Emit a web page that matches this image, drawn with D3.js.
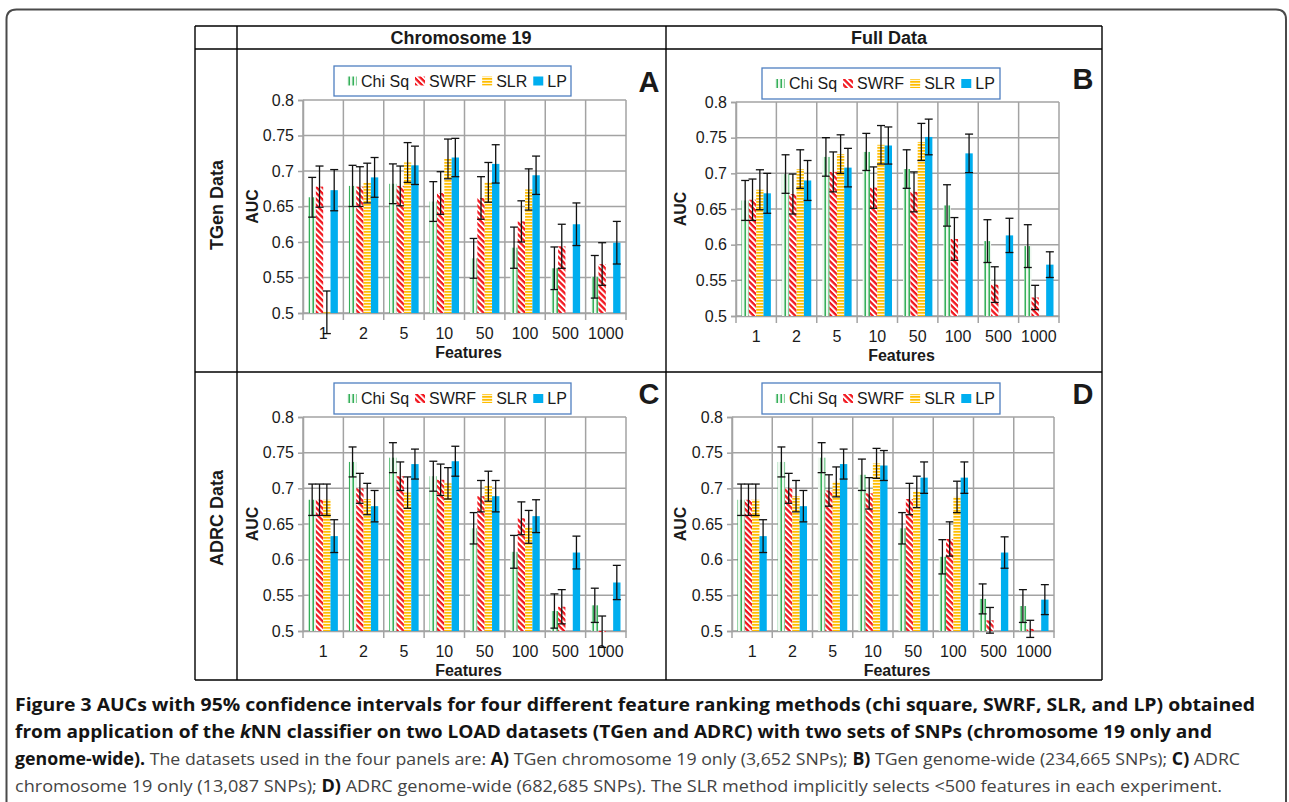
<!DOCTYPE html>
<html>
<head>
<meta charset="utf-8">
<title>AUCs with 95% confidence intervals</title>
<script src="https://cdnjs.cloudflare.com/ajax/libs/d3/7.8.5/d3.min.js"></script>
<style>
  body { margin: 0; background: #fff; }
  svg { display: block; }
  .chart text { font-family: "Liberation Sans", Arial, sans-serif; fill: #1a1a1a; }
  .caption text { font-family: "Open Sans", sans-serif; font-size: 17px; fill: #444; }
  .caption .b { font-weight: bold; fill: #141414; }
</style>
</head>
<body>
<script>

var features = ["1", "2", "5", "10", "50", "100", "500", "1000"];
var methods = ["Chi Sq", "SWRF", "SLR", "LP"];
var yTicks = [0.5, 0.55, 0.6, 0.65, 0.7, 0.75, 0.8];

// AUC values per method (Chi Sq, SWRF, SLR, LP), one entry per feature count
// and the half-width of the 95% CI in the matching array
var aucTGenChr19 = [
  [0.663, 0.679, 0.682, 0.657, 0.577, 0.592, 0.563, 0.551],
  [0.678, 0.678, 0.679, 0.669, 0.662, 0.629, 0.594, 0.569],
  [0.501, 0.683, 0.712, 0.717, 0.684, 0.674, null, null],
  [0.673, 0.691, 0.708, 0.719, 0.710, 0.694, 0.625, 0.599]
];
var ciTGenChr19 = [
  [0.028, 0.029, 0.028, 0.028, 0.028, 0.029, 0.030, 0.030],
  [0.029, 0.028, 0.028, 0.030, 0.030, 0.029, 0.031, 0.030],
  [0.030, 0.028, 0.028, 0.028, 0.028, 0.029, null, null],
  [0.029, 0.028, 0.027, 0.027, 0.027, 0.027, 0.030, 0.030]
];

var aucTGenFull = [
  [0.662, 0.699, 0.723, 0.730, 0.706, 0.655, 0.605, 0.598],
  [0.663, 0.671, 0.702, 0.680, 0.674, 0.608, 0.544, 0.526],
  [0.677, 0.706, 0.727, 0.740, 0.744, null, null, null],
  [0.672, 0.690, 0.708, 0.739, 0.751, 0.728, 0.613, 0.572]
];
var ciTGenFull = [
  [0.028, 0.027, 0.027, 0.026, 0.027, 0.029, 0.030, 0.030],
  [0.029, 0.028, 0.028, 0.029, 0.028, 0.030, 0.025, 0.017],
  [0.028, 0.027, 0.027, 0.027, 0.026, null, null, null],
  [0.028, 0.028, 0.027, 0.026, 0.025, 0.027, 0.024, 0.018]
];

var aucADRCChr19 = [
  [0.684, 0.737, 0.743, 0.717, 0.644, 0.611, 0.528, 0.536],
  [0.684, 0.700, 0.717, 0.712, 0.689, 0.658, 0.534, 0.499],
  [0.684, 0.685, 0.694, 0.707, 0.703, 0.646, null, null],
  [0.633, 0.675, 0.734, 0.738, 0.689, 0.661, 0.610, 0.568]
];
var ciADRCChr19 = [
  [0.022, 0.021, 0.021, 0.021, 0.022, 0.023, 0.024, 0.024],
  [0.022, 0.021, 0.020, 0.022, 0.022, 0.023, 0.024, 0.022],
  [0.022, 0.022, 0.022, 0.022, 0.021, 0.023, null, null],
  [0.023, 0.022, 0.021, 0.021, 0.022, 0.023, 0.023, 0.024]
];

var aucADRCFull = [
  [0.684, 0.737, 0.743, 0.719, 0.644, 0.604, 0.545, 0.535],
  [0.684, 0.700, 0.697, 0.693, 0.685, 0.629, 0.515, 0.503],
  [0.684, 0.689, 0.709, 0.735, 0.695, 0.688, null, null],
  [0.633, 0.675, 0.734, 0.732, 0.715, 0.715, 0.610, 0.544]
];
var ciADRCFull = [
  [0.022, 0.021, 0.021, 0.022, 0.022, 0.024, 0.021, 0.023],
  [0.022, 0.021, 0.022, 0.022, 0.022, 0.024, 0.018, 0.012],
  [0.022, 0.022, 0.021, 0.021, 0.022, 0.022, null, null],
  [0.023, 0.022, 0.021, 0.021, 0.022, 0.022, 0.022, 0.021]
];

var width = 1289, height = 802;
var gridColor = "#a3a3a3";
var fills = ["url(#pChi)", "url(#pSwrf)", "url(#pSlr)", "#00aeef"];

// panel layout (plot box, legend box, letter, axis-title positions)
var panels = [
  { letter: "A", auc: aucTGenChr19, ci: ciTGenChr19, left: 303, right: 626, top: 100, bottom: 313,
    legend: [334, 66, 237, 30], letterPos: [649, 92], aucX: 252 },
  { letter: "B", auc: aucTGenFull, ci: ciTGenFull, left: 736, right: 1059, top: 102, bottom: 316,
    legend: [762, 68, 238, 31], letterPos: [1083, 89], aucX: 680 },
  { letter: "C", auc: aucADRCChr19, ci: ciADRCChr19, left: 303, right: 626, top: 417, bottom: 631,
    legend: [334, 383, 237, 31], letterPos: [649, 404], aucX: 252 },
  { letter: "D", auc: aucADRCFull, ci: ciADRCFull, left: 732, right: 1054, top: 417, bottom: 631,
    legend: [762, 383, 238, 31], letterPos: [1083, 404], aucX: 680 }
];

var svg = d3.select("body").append("svg")
  .attr("width", width)
  .attr("height", height);

// hatch patterns
var defs = svg.append("defs");
var pChi = defs.append("pattern").attr("id", "pChi")
  .attr("patternUnits", "userSpaceOnUse").attr("width", 4).attr("height", 4);
pChi.append("rect").attr("width", 4).attr("height", 4).attr("fill", "#eef8f0");
pChi.append("rect").attr("x", 0.5).attr("width", 1.4).attr("height", 4).attr("fill", "#22a84a");

var pSwrf = defs.append("pattern").attr("id", "pSwrf")
  .attr("patternUnits", "userSpaceOnUse").attr("width", 5).attr("height", 4.2)
  .attr("patternTransform", "rotate(45)");
pSwrf.append("rect").attr("width", 5).attr("height", 4.2).attr("fill", "#fff");
pSwrf.append("rect").attr("width", 5).attr("height", 2.3).attr("fill", "#f2161e");

var pSlr = defs.append("pattern").attr("id", "pSlr")
  .attr("patternUnits", "userSpaceOnUse").attr("width", 4).attr("height", 3);
pSlr.append("rect").attr("width", 4).attr("height", 3).attr("fill", "#fff6dc");
pSlr.append("rect").attr("width", 4).attr("height", 1.7).attr("fill", "#ffbd00");

// outer rounded frame
var fr = { l: 6.5, t: 9.5, r: 1286, rad: 10 };
svg.append("path")
  .attr("d", "M" + fr.l + "," + (height + 2) + " V" + (fr.t + fr.rad) +
    " Q" + fr.l + "," + fr.t + " " + (fr.l + fr.rad) + "," + fr.t +
    " H" + (fr.r - fr.rad) + " Q" + fr.r + "," + fr.t + " " + fr.r + "," + (fr.t + fr.rad) +
    " V" + (height + 2))
  .attr("fill", "none").attr("stroke", "#4a4a4a").attr("stroke-width", 2);

// table grid
var tbl = svg.append("g").attr("class", "chart");
var tLines = [
  [195, 26, 1102, 26], [195, 49, 1102, 49], [195, 372, 1102, 372], [195, 680, 1102, 680],
  [195, 26, 195, 680], [237, 26, 237, 680], [666, 26, 666, 680], [1102, 26, 1102, 680]
];
tbl.selectAll("line").data(tLines).enter().append("line")
  .attr("x1", function (d) { return d[0]; }).attr("y1", function (d) { return d[1]; })
  .attr("x2", function (d) { return d[2]; }).attr("y2", function (d) { return d[3]; })
  .attr("stroke", "#000").attr("stroke-width", 1.4);

tbl.append("text").attr("x", 461).attr("y", 44).attr("text-anchor", "middle")
  .attr("font-size", 18).attr("font-weight", "bold").text("Chromosome 19");
tbl.append("text").attr("x", 889).attr("y", 44).attr("text-anchor", "middle")
  .attr("font-size", 18).attr("font-weight", "bold").text("Full Data");
tbl.append("text").attr("transform", "translate(223,205) rotate(-90)").attr("text-anchor", "middle")
  .attr("font-size", 18).attr("font-weight", "bold").text("TGen Data");
tbl.append("text").attr("transform", "translate(223,518) rotate(-90)").attr("text-anchor", "middle")
  .attr("font-size", 18).attr("font-weight", "bold").text("ADRC Data");

function drawPanel(p) {
  var g = svg.append("g").attr("class", "chart");

  var x = d3.scaleBand().domain(features).range([p.left, p.right]).padding(0);
  var xm = d3.scaleBand().domain(methods).range([0, x.bandwidth()])
    .paddingInner(0).paddingOuter(0.75);
  var y = d3.scaleLinear().domain([0.5, 0.8]).range([p.bottom, p.top]);

  // horizontal grid
  g.append("g").selectAll("line").data(yTicks).enter().append("line")
    .attr("x1", p.left).attr("x2", p.right)
    .attr("y1", function (d) { return y(d); }).attr("y2", function (d) { return y(d); })
    .attr("stroke", gridColor).attr("stroke-width", 1.5);

  // vertical grid + bottom ticks at category edges
  var edges = features.map(function (f) { return x(f); }).concat([p.right]);
  g.append("g").selectAll("line").data(edges).enter().append("line")
    .attr("x1", function (d) { return d; }).attr("x2", function (d) { return d; })
    .attr("y1", p.top).attr("y2", p.bottom + 7)
    .attr("stroke", gridColor).attr("stroke-width", 1.5);

  // y axis
  var yAxisG = g.append("g")
    .attr("transform", "translate(" + p.left + ",0)")
    .call(d3.axisLeft(y).tickValues(yTicks).tickSize(5).tickPadding(4)
      .tickFormat(function (d) { return String(d); }))
    .attr("font-family", null).attr("font-size", 16);
  yAxisG.select(".domain").attr("stroke", gridColor).attr("stroke-width", 1.5);
  yAxisG.selectAll(".tick line").attr("stroke", gridColor).attr("stroke-width", 1.5);

  // x axis labels
  var xAxisG = g.append("g")
    .attr("transform", "translate(0," + p.bottom + ")")
    .call(d3.axisBottom(x).tickSize(0).tickPadding(15))
    .attr("font-family", null).attr("font-size", 16);
  xAxisG.select(".domain").attr("stroke", gridColor).attr("stroke-width", 1.5);

  // bars
  methods.forEach(function (m, mi) {
    var rows = features.map(function (f, i) {
      return { f: f, v: p.auc[mi][i], c: p.ci[mi][i] };
    }).filter(function (d) { return d.v !== null; });

    g.append("g").selectAll("rect").data(rows).enter().append("rect")
      .attr("x", function (d) { return x(d.f) + xm(m); })
      .attr("y", function (d) { return Math.min(y(d.v), y(0.5)); })
      .attr("width", xm.bandwidth())
      .attr("height", function (d) { return Math.max(1, Math.abs(y(0.5) - y(d.v))); })
      .attr("fill", fills[mi]);

    var eb = g.append("g").attr("stroke", "#111").attr("stroke-width", 1.3);
    rows.forEach(function (d) {
      var cx = x(d.f) + xm(m) + xm.bandwidth() / 2;
      var y1 = y(d.v + d.c), y2 = y(d.v - d.c);
      eb.append("line").attr("x1", cx).attr("x2", cx).attr("y1", y1).attr("y2", y2);
      eb.append("line").attr("x1", cx - 4).attr("x2", cx + 4).attr("y1", y1).attr("y2", y1);
      eb.append("line").attr("x1", cx - 4).attr("x2", cx + 4).attr("y1", y2).attr("y2", y2);
    });
  });

  // axis titles
  g.append("text")
    .attr("x", (p.left + p.right) / 2 + 4).attr("y", p.bottom + 45)
    .attr("text-anchor", "middle").attr("font-size", 16).attr("font-weight", "bold")
    .text("Features");
  g.append("text")
    .attr("transform", "translate(" + (p.aucX + 6) + "," + ((p.top + p.bottom) / 2) + ") rotate(-90)")
    .attr("text-anchor", "middle").attr("font-size", 16).attr("font-weight", "bold")
    .text("AUC");

  // panel letter
  g.append("text").attr("x", p.letterPos[0]).attr("y", p.letterPos[1])
    .attr("text-anchor", "middle").attr("font-size", 29).attr("font-weight", "bold")
    .text(p.letter);

  // legend
  var lb = p.legend;
  g.append("rect").attr("x", lb[0]).attr("y", lb[1]).attr("width", lb[2]).attr("height", lb[3])
    .attr("fill", "#fff").attr("stroke", "#4f7fc0").attr("stroke-width", 1.3);
  var cy = lb[1] + lb[3] / 2;
  var lx = lb[0] + 13;
  methods.forEach(function (m, mi) {
    g.append("rect").attr("x", lx).attr("y", cy - 4.5).attr("width", 10).attr("height", 9)
      .attr("fill", fills[mi]);
    var t = g.append("text").attr("x", lx + 14).attr("y", cy + 5.7)
      .attr("font-size", 16).text(m);
    lx += 14 + t.node().getComputedTextLength() + 6;
  });
}

panels.forEach(drawPanel);

// caption
var cap = svg.append("g").attr("class", "caption");
var capLines = [
  { y: 711, w: 1240, parts: [["b", "Figure 3 AUCs with 95% confidence intervals for four different feature ranking methods (chi square, SWRF, SLR, and LP) obtained"]] },
  { y: 738, w: 1197, parts: [["b", "from application of the "], ["bi", "k"], ["b", "NN classifier on two LOAD datasets (TGen and ADRC) with two sets of SNPs (chromosome 19 only and"]] },
  { y: 765, w: 1225, parts: [["b", "genome-wide)."], ["r", " The datasets used in the four panels are: "], ["b", "A)"],
      ["r", " TGen chromosome 19 only (3,652 SNPs); "], ["b", "B)"], ["r", " TGen genome-wide (234,665 SNPs); "],
      ["b", "C)"], ["r", " ADRC"]] },
  { y: 792, w: 1207, parts: [["r", "chromosome 19 only (13,087 SNPs); "], ["b", "D)"],
      ["r", " ADRC genome-wide (682,685 SNPs). The SLR method implicitly selects <500 features in each experiment."]] }
];
capLines.forEach(function (ln) {
  var t = cap.append("text").attr("x", 15).attr("y", ln.y)
    .attr("textLength", ln.w).attr("lengthAdjust", "spacingAndGlyphs");
  ln.parts.forEach(function (pt) {
    var s = t.append("tspan").text(pt[1]);
    if (pt[0] !== "r") s.attr("class", "b");
    if (pt[0] === "bi") s.attr("font-style", "italic");
  });
});

</script>
</body>
</html>
